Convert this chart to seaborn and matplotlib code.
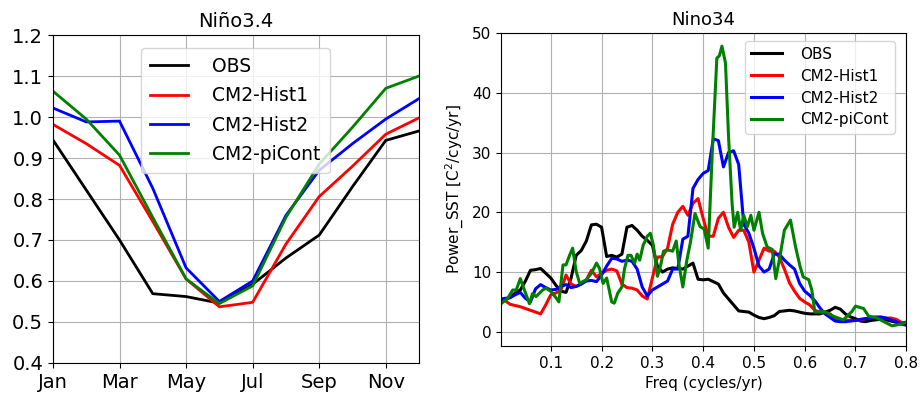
import numpy as np
import pandas as pd
import matplotlib
matplotlib.use("Agg")
import matplotlib.pyplot as plt
import seaborn as sns

# ---------------- data ----------------
series_names = ["OBS", "CM2-Hist1", "CM2-Hist2", "CM2-piCont"]
colors = {"OBS": "black", "CM2-Hist1": "red", "CM2-Hist2": "blue", "CM2-piCont": "green"}

months = [1, 2, 3, 4, 5, 6, 7, 8, 9, 10, 11, 12]
month_ticks = [1, 3, 5, 7, 9, 11]
month_labels = ["Jan", "Mar", "May", "Jul", "Sep", "Nov"]

std_obs = [0.944, 0.822, 0.700, 0.569, 0.562, 0.546, 0.592, 0.656, 0.712, 0.830, 0.943, 0.966]
std_hist1 = [0.982, 0.935, 0.882, 0.745, 0.605, 0.537, 0.548, 0.690, 0.806, 0.880, 0.958, 0.998]
std_hist2 = [1.022, 0.988, 0.990, 0.826, 0.632, 0.550, 0.600, 0.760, 0.870, 0.935, 0.995, 1.045]
std_picont = [1.063, 0.995, 0.907, 0.755, 0.605, 0.545, 0.588, 0.755, 0.885, 0.975, 1.070, 1.100]

freq = [0.002] + [round(0.01 * i, 2) for i in range(1, 81)]

pow_obs = [5.2, 5.3, 5.8, 6.5, 7.0, 8.5, 10.3, 10.4, 10.6, 9.8, 9.0,
           7.8, 6.8, 6.6, 9.0, 12.8, 13.6, 15.2, 17.9, 18.0, 17.5,
           12.6, 12.8, 12.5, 13.0, 17.5, 17.8, 17.0, 16.0, 15.3, 14.5,
           11.0, 10.0, 10.5, 10.7, 10.6, 10.5, 11.0, 11.5, 8.8, 8.7,
           8.8, 8.4, 8.0, 6.5, 5.5, 4.5, 3.5, 3.4, 3.3, 2.8,
           2.4, 2.2, 2.4, 2.7, 3.4, 3.5, 3.6, 3.5, 3.3, 3.1,
           3.0, 3.0, 3.0, 3.3, 3.6, 4.1, 3.8, 3.0, 2.5, 2.2,
           1.8, 1.7, 1.9, 2.0, 2.1, 2.0, 1.8, 1.6, 1.5, 1.6]

pow_hist1 = [5.5, 5.2, 4.6, 4.4, 4.2, 3.9, 3.6, 3.3, 3.0, 4.5, 6.2,
             6.5, 7.0, 9.5, 8.0, 7.6, 8.0, 8.7, 10.3, 9.2, 9.8,
             10.3, 10.5, 10.2, 8.0, 7.4, 7.3, 7.0, 6.0, 5.5, 9.0,
             12.5, 12.6, 14.0, 18.0, 20.0, 21.0, 19.5, 21.5, 22.3, 19.0,
             16.0, 16.0, 19.0, 20.0, 17.5, 15.8, 17.0, 17.0, 15.0, 10.0,
             12.0, 14.0, 13.5, 13.5, 12.5, 10.5, 8.2, 6.8, 5.6, 5.0,
             4.5, 3.6, 3.3, 3.2, 3.0, 2.2, 2.1, 2.0, 1.9, 1.9,
             2.0, 2.2, 2.4, 2.5, 2.4, 2.3, 2.3, 2.1, 1.6, 1.4]

pow_hist2 = [5.5, 5.6, 5.7, 6.2, 6.6, 5.6, 5.0, 7.2, 7.9, 7.4, 7.0,
             7.1, 7.6, 7.9, 7.4, 7.6, 8.0, 8.5, 8.6, 8.4, 9.5,
             11.0, 12.3, 12.2, 11.8, 12.0, 11.8, 10.5, 7.5, 6.0, 7.0,
             7.5, 8.0, 8.5, 10.5, 10.5, 15.5, 16.0, 24.0, 25.5, 26.5,
             27.0, 32.3, 32.0, 27.6, 30.0, 30.3, 28.0, 18.0, 16.5, 14.0,
             11.0, 10.0, 10.5, 13.0, 13.0, 12.0, 11.2, 10.5, 8.1, 6.8,
             6.1, 5.2, 4.0, 3.0, 2.4, 1.8, 1.7, 1.7, 1.8, 1.9,
             2.1, 2.2, 2.3, 2.4, 2.5, 2.3, 2.0, 1.7, 1.3, 1.1]

freq_pi = [0.002, 0.015, 0.025, 0.032, 0.040, 0.048, 0.058, 0.064, 0.071, 0.084,
           0.091, 0.101, 0.111, 0.116, 0.124, 0.130, 0.137, 0.143, 0.150, 0.157,
           0.163, 0.170, 0.180, 0.190, 0.196, 0.203, 0.210, 0.215, 0.220, 0.225,
           0.232, 0.240, 0.245, 0.252, 0.258, 0.265, 0.270, 0.275, 0.282, 0.290,
           0.296, 0.302, 0.310, 0.316, 0.322, 0.330, 0.340, 0.347, 0.352, 0.360,
           0.368, 0.375, 0.384, 0.394, 0.402, 0.410, 0.418, 0.427, 0.432, 0.437,
           0.444, 0.450, 0.457, 0.461, 0.468, 0.474, 0.480, 0.487, 0.494, 0.500,
           0.510, 0.517, 0.526, 0.536, 0.543, 0.550, 0.560, 0.572, 0.582, 0.591,
           0.597, 0.608, 0.614, 0.620, 0.638, 0.657, 0.676, 0.693, 0.700, 0.716,
           0.726, 0.740, 0.756, 0.772, 0.790, 0.800]
pow_picont = [4.7, 5.6, 7.0, 7.0, 8.9, 7.0, 4.7, 6.4, 5.9, 7.0,
              7.3, 6.7, 5.6, 5.0, 11.2, 11.2, 12.8, 14.0, 10.1, 8.1,
              8.4, 8.7, 9.8, 11.5, 10.6, 8.1, 9.0, 7.0, 5.0, 4.8,
              6.5, 7.5, 10.5, 12.8, 12.8, 11.5, 13.0, 12.0, 14.5, 16.0,
              16.5, 14.5, 9.3, 11.0, 13.5, 13.7, 13.5, 15.2, 11.5, 7.5,
              12.0, 15.0, 19.8, 17.6, 17.2, 14.0, 30.0, 45.8, 46.2, 47.8,
              45.0, 32.7, 21.5, 17.5, 20.0, 17.0, 19.5, 17.6, 19.5, 17.0,
              20.0, 16.5, 14.2, 13.8, 8.9, 12.0, 17.0, 18.7, 14.2, 10.9,
              9.2, 8.7, 7.0, 3.3, 3.4, 2.6, 2.0, 3.4, 4.3, 3.9,
              2.6, 2.4, 1.7, 1.0, 1.3, 1.6]

# ---------------- frames ----------------
df_std = pd.concat([
    pd.DataFrame({"month": months, "std": std_obs, "run": "OBS"}),
    pd.DataFrame({"month": months, "std": std_hist1, "run": "CM2-Hist1"}),
    pd.DataFrame({"month": months, "std": std_hist2, "run": "CM2-Hist2"}),
    pd.DataFrame({"month": months, "std": std_picont, "run": "CM2-piCont"}),
], ignore_index=True)

df_pow = pd.concat([
    pd.DataFrame({"freq": freq, "power": pow_obs, "run": "OBS"}),
    pd.DataFrame({"freq": freq, "power": pow_hist1, "run": "CM2-Hist1"}),
    pd.DataFrame({"freq": freq, "power": pow_hist2, "run": "CM2-Hist2"}),
    pd.DataFrame({"freq": freq_pi, "power": pow_picont, "run": "CM2-piCont"}),
], ignore_index=True)

# ---------------- figure ----------------
fig = plt.figure(figsize=(9.21, 3.98), dpi=100)
ax1 = fig.add_axes([0.0575, 0.088, 0.3975, 0.824])
ax2 = fig.add_axes([0.544, 0.131, 0.440, 0.786])

sns.lineplot(data=df_std, x="month", y="std", hue="run", hue_order=series_names,
             palette=colors, estimator=None, sort=True, linewidth=2.0, ax=ax1)
ax1.set_xlim(1, 12)
ax1.set_ylim(0.4, 1.2)
ax1.set_xticks(month_ticks)
ax1.set_xticklabels(month_labels)
ax1.set_yticks(np.arange(0.4, 1.21, 0.1))
ax1.set_yticklabels([f"{v:.1f}" for v in np.arange(0.4, 1.21, 0.1)])
ax1.tick_params(labelsize=14)
ax1.grid(True, color="#b0b0b0", linewidth=0.8)
ax1.set_axisbelow(True)
ax1.set_xlabel("")
ax1.set_ylabel("")
ax1.set_title("Niño3.4", fontsize=14)
h, l = ax1.get_legend_handles_labels()
ax1.legend(h, l, loc="upper left", bbox_to_anchor=(0.215, 0.99), fontsize=13.5,
           handlelength=2.0, borderpad=0.5, labelspacing=0.55, handletextpad=1.3)

sns.lineplot(data=df_pow, x="freq", y="power", hue="run", hue_order=series_names,
             palette=colors, estimator=None, sort=True, linewidth=2.2, ax=ax2)
ax2.set_xlim(0.002, 0.8)
ax2.set_ylim(-2.35, 50)
ax2.set_xticks([0.1, 0.2, 0.3, 0.4, 0.5, 0.6, 0.7, 0.8])
ax2.set_yticks([0, 10, 20, 30, 40, 50])
ax2.tick_params(labelsize=11)
ax2.grid(True, color="#b0b0b0", linewidth=0.8)
ax2.set_axisbelow(True)
ax2.set_xlabel("Freq (cycles/yr)", fontsize=11)
ax2.set_ylabel("Power_SST [C$^2$/cyc/yr]", fontsize=11)
ax2.set_title("Nino34", fontsize=13)
h, l = ax2.get_legend_handles_labels()
ax2.legend(h, l, loc="upper right", bbox_to_anchor=(0.99, 1.0), fontsize=11,
           handlelength=2.0, handletextpad=1.2, labelspacing=0.45)

fig.savefig("out.png", dpi=100)
